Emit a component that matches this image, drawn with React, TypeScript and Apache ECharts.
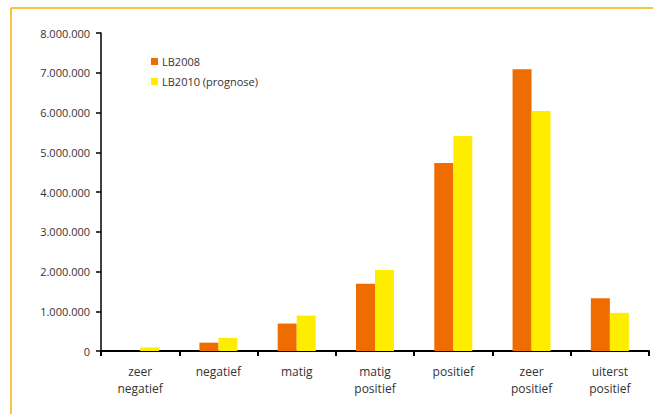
import React, { useEffect, useRef } from "react";
import * as echarts from "echarts";

const categories = [
  "zeer\nnegatief",
  "negatief",
  "matig",
  "matig\npositief",
  "positief",
  "zeer\npositief",
  "uiterst\npositief",
];
const lb2008 = [0, 210000, 690000, 1690000, 4730000, 7090000, 1330000];
const lb2010 = [90000, 330000, 890000, 2040000, 5410000, 6040000, 960000];
const seriesNames = ["LB2008", "LB2010 (prognose)"];
const yTicks = { min: 0, max: 8000000, interval: 1000000 };

const fmt = (v: number) => String(Math.round(v)).replace(/\B(?=(\d{3})+(?!\d))/g, ".");

export default function App() {
  const ref = useRef<HTMLDivElement>(null);
  useEffect(() => {
    if (!ref.current) return;
    const chart = echarts.init(ref.current, undefined, { renderer: "svg" });
    const font = "'Open Sans', sans-serif";
    chart.setOption({
      animation: false,
      backgroundColor: "#fff",
      textStyle: { fontFamily: font, color: "#333" },
      graphic: [
        { type: "line", shape: { x1: 11, y1: 8, x2: 653, y2: 8 }, style: { stroke: "#F7B000", lineWidth: 1.5 } },
        { type: "line", shape: { x1: 11, y1: 8, x2: 11, y2: 414 }, style: { stroke: "#F7B000", lineWidth: 1.5 } },
      ],
      legend: {
        orient: "vertical",
        left: 146,
        top: 51,
        itemWidth: 7,
        itemHeight: 7,
        itemGap: 9,
        icon: "rect",
        textStyle: { fontFamily: font, fontSize: 11, color: "#333", padding: [0, 0, 0, -1] },
        data: seriesNames,
      },
      grid: { left: 101, top: 33, right: 4, bottom: 63, containLabel: false },
      xAxis: {
        type: "category",
        data: categories,
        axisLine: { lineStyle: { color: "#000", width: 2 } },
        axisTick: { show: true, length: 5, lineStyle: { color: "#000", width: 2 } },
        axisLabel: { fontFamily: font, fontSize: 12, color: "#333", margin: 12, lineHeight: 17, interval: 0 },
      },
      yAxis: {
        type: "value",
        min: yTicks.min,
        max: yTicks.max,
        interval: yTicks.interval,
        splitLine: { show: false },
        axisLine: { show: true, lineStyle: { color: "#000", width: 1.5 } },
        axisTick: { show: true, length: 5, lineStyle: { color: "#000", width: 1.5 } },
        axisLabel: { fontFamily: font, fontSize: 11, color: "#333", margin: 11, formatter: fmt },
      },
      series: [
        {
          name: seriesNames[0],
          type: "bar",
          data: lb2008,
          barWidth: 19,
          barGap: "0%",
          itemStyle: { color: "#EE6C00" },
        },
        {
          name: seriesNames[1],
          type: "bar",
          data: lb2010,
          barWidth: 19,
          barGap: "0%",
          itemStyle: { color: "#FFED00" },
        },
      ],
    });
    return () => chart.dispose();
  }, []);
  return <div ref={ref} style={{ width: 653, height: 414, position: "absolute", left: 0, top: 0 }} />;
}
